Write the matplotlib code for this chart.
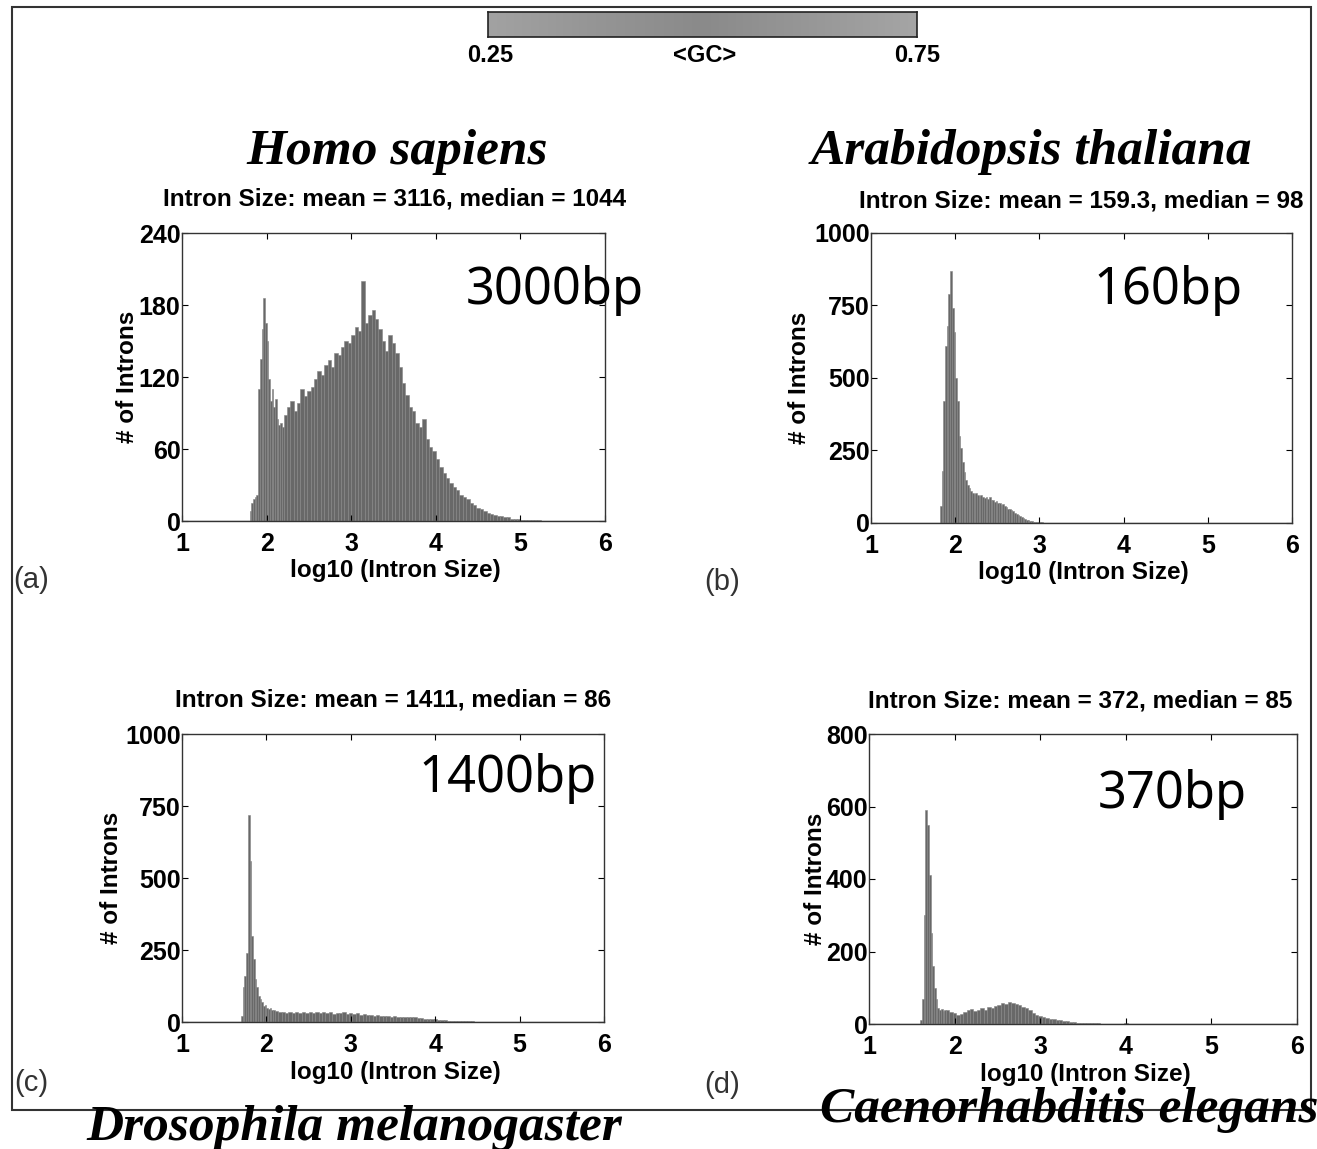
import numpy as np
import matplotlib
matplotlib.use("Agg")
import matplotlib.pyplot as plt
from matplotlib.colors import LinearSegmentedColormap
from matplotlib.patches import Rectangle

# ---------------- data ----------------
species = ["Homo sapiens", "Arabidopsis thaliana", "Drosophila melanogaster", "Caenorhabditis elegans"]
subtitles = ["Intron Size: mean = 3116, median = 1044",
             "Intron Size: mean = 159.3, median = 98",
             "Intron Size: mean = 1411, median = 86",
             "Intron Size: mean = 372, median = 85"]
bp_labels = ["3000bp", "160bp", "1400bp", "370bp"]
panel_letters = ["(a)", "(b)", "(c)", "(d)"]
ymax = [240, 1000, 1000, 800]
yticks = [[0, 60, 120, 180, 240], [0, 250, 500, 750, 1000], [0, 250, 500, 750, 1000], [0, 200, 400, 600, 800]]
xticks = [1, 2, 3, 4, 5, 6]
gc_ticks = ["0.25", "<GC>", "0.75"]

# Homo sapiens: peak bins of 0.02 from 1.80, tail bins of 0.04 from 2.20
human_peak_start, human_peak_w = 1.80, 0.02
human_peak_counts = [8, 15, 18, 20, 22, 110, 135, 160, 186, 165, 150, 118, 100, 110, 95, 102, 85, 80, 82, 78]
human_tail_start, human_tail_w = 2.20, 0.04
human_tail_counts = [88, 95, 100, 92, 98, 110, 104, 108, 112, 118,
                     125, 122, 130, 134, 128, 140, 138, 145, 150, 148, 155, 162, 158, 200, 165, 172, 176, 168, 160, 150,
                     142, 155, 148, 140, 128, 115, 105, 95, 92, 82, 78, 85, 68, 62, 58, 52, 45, 40, 36, 32,
                     28, 26, 22, 20, 18, 15, 13, 11, 10, 8, 7, 6, 5, 4, 4, 3, 3, 2, 2, 2,
                     1, 1, 1, 1, 1, 1]

# Arabidopsis: bins of 0.02 from 1.82
arab_start, arab_w = 1.82, 0.02
arab_counts = [60, 180, 420, 610, 680, 790, 870, 740, 660, 500, 420, 300, 260, 210, 175, 150, 130, 120, 112, 105,
               100, 102, 95, 92, 98, 90, 85, 88, 82, 90, 80, 78, 72, 75, 68, 70, 62, 64, 58, 55,
               50, 48, 44, 40, 36, 32, 28, 24, 20, 17, 14, 12, 10, 8, 6, 5, 4, 3, 3, 2,
               2, 1, 1, 1, 1]

# Drosophila: peak bins of 0.02 from 1.70, tail bins of 0.04 from 2.10
dros_peak_start, dros_peak_w = 1.70, 0.02
dros_peak_counts = [20, 120, 160, 240, 718, 560, 300, 220, 150, 120, 90, 80, 70, 55, 60, 48, 45, 50, 40, 42]
dros_tail_start, dros_tail_w = 2.10, 0.04
dros_tail_counts = [38, 34, 36, 32, 35, 30, 33, 31, 34, 30, 35, 32, 36, 31, 33, 30, 34, 29, 32, 30,
                    33, 28, 31, 27, 30, 26, 28, 24, 25, 22, 24, 21, 22, 20, 19, 21, 18, 19, 17, 18,
                    16, 17, 15, 14, 12, 11, 10, 9, 8, 7, 6, 5, 4, 4, 3, 3, 2, 2, 2, 1,
                    1, 1, 1, 1, 1, 1]

# C. elegans: peak bins of 0.02 from 1.60, tail bins of 0.04 from 1.90
cel_peak_start, cel_peak_w = 1.60, 0.02
cel_peak_counts = [10, 70, 300, 589, 550, 410, 250, 160, 100, 70, 45, 38, 42, 35, 40]
cel_tail_start, cel_tail_w = 1.90, 0.04
cel_tail_counts = [38, 34, 30, 26, 28, 32, 38, 42, 36, 40, 44, 38, 48, 45, 50, 52, 58, 55, 62, 58,
                   56, 52, 48, 44, 38, 30, 24, 22, 18, 17, 15, 14, 12, 10, 9, 7, 6, 5, 4, 4,
                   3, 3, 2, 2, 2, 1, 1, 1, 1, 1, 1, 1, 2, 1]

hist_parts = [
    [(human_peak_start, human_peak_w, human_peak_counts), (human_tail_start, human_tail_w, human_tail_counts)],
    [(arab_start, arab_w, arab_counts)],
    [(dros_peak_start, dros_peak_w, dros_peak_counts), (dros_tail_start, dros_tail_w, dros_tail_counts)],
    [(cel_peak_start, cel_peak_w, cel_peak_counts), (cel_tail_start, cel_tail_w, cel_tail_counts)],
]

# ---------------- layout ----------------
W, H = 1317, 1149
fig = plt.figure(figsize=(W / 100, H / 100), dpi=100)
fig.patch.set_facecolor("white")


def rect(x0, y0, x1, y1):
    return [x0 / W, 1 - y1 / H, (x1 - x0) / W, (y1 - y0) / H]


def fx(x):
    return x / W


def fy(y):
    return 1 - y / H


SANS = "Liberation Sans"
SERIF = "Liberation Serif"
BAR = "#686868"
BAR_EDGE = "#858585"

# outer frame
fig.add_artist(Rectangle((fx(12), fy(1110)), fx(1311) - fx(12), fy(7) - fy(1110),
                         fill=False, edgecolor="#333333", linewidth=1.5, transform=fig.transFigure))

# colour bar
cax = fig.add_axes(rect(488, 12, 917, 37))
cmap = LinearSegmentedColormap.from_list("gcgray", ["#a2a2a2", "#959595", "#8a8a8a", "#979797", "#a5a5a5"])
cax.imshow(np.linspace(0.25, 0.75, 200)[None, :], aspect="auto", cmap=cmap, extent=[0.25, 0.75, 0, 1])
cax.set_xticks([])
cax.set_yticks([])
for s in cax.spines.values():
    s.set_linewidth(1.2)
    s.set_color("#222222")
for txt, x in zip(gc_ticks, [490, 705, 917]):
    fig.text(fx(x), fy(55), txt, ha="center", va="center", fontsize=17, family=SANS, weight="bold")

axes_px = [(182, 233, 605, 521), (871, 233, 1292, 523), (182, 734, 604, 1022), (869, 734, 1297, 1024)]
species_pos = [(397, 152), (1031, 152), (354, 1128), (1069, 1110)]
sub_pos = [(395, 199), (1081, 201), (393, 700), (1080, 701)]
bp_pos = [(555, 291), (1168, 291), (508, 778), (1172, 794)]
ylab_x = [127, 800, 112, 815]
xlab_y = [571, 573, 1072, 1074]
letter_pos = [(31, 580), (722, 582), (31, 1083), (722, 1085)]

for i in range(4):
    x0, y0, x1, y1 = axes_px[i]
    ax = fig.add_axes(rect(x0, y0, x1, y1))
    for start, w, counts in hist_parts[i]:
        edges = start + w * np.arange(len(counts))
        ax.bar(edges, counts, width=w, align="edge", color=BAR, edgecolor=BAR_EDGE, linewidth=0.4)
    ax.plot([1, 6], [0, 0], color="#888888", linewidth=1.0)
    ax.set_xlim(1, 6)
    ax.set_ylim(0, ymax[i])
    ax.set_xticks(xticks)
    ax.set_yticks(yticks[i])
    ax.tick_params(direction="in", top=True, right=True, length=4, width=0.8, labelsize=18)
    ax.tick_params(axis="x", pad=8)
    ax.tick_params(axis="y", pad=1)
    for lab in ax.get_xticklabels() + ax.get_yticklabels():
        lab.set_family(SANS)
        lab.set_weight("bold")
    for s in ax.spines.values():
        s.set_linewidth(1.0)
        s.set_color("#333333")
    cx = (x0 + x1) / 2
    fig.text(fx(cx + 2), fy(xlab_y[i]), "log10 (Intron Size)", ha="center", va="center",
             fontsize=17.5, family=SANS, weight="bold")
    fig.text(fx(ylab_x[i]), fy((y0 + y1) / 2), "# of Introns", ha="center", va="center",
             rotation=90, fontsize=17.5, family=SANS, weight="bold")
    fig.text(fx(sub_pos[i][0]), fy(sub_pos[i][1]), subtitles[i], ha="center", va="center",
             fontsize=17.5, family=SANS, weight="bold")
    fig.text(fx(species_pos[i][0]), fy(species_pos[i][1]), species[i], ha="center", va="center",
             fontsize=37, family=SERIF, weight="bold", style="italic")
    fig.text(fx(bp_pos[i][0]), fy(bp_pos[i][1]), bp_labels[i], ha="center", va="center",
             fontsize=36.5, family="Noto Sans")
    fig.text(fx(letter_pos[i][0]), fy(letter_pos[i][1]), panel_letters[i], ha="center", va="center",
             fontsize=21, family=SANS, color="#333333")

fig.savefig("out.png", dpi=100)
